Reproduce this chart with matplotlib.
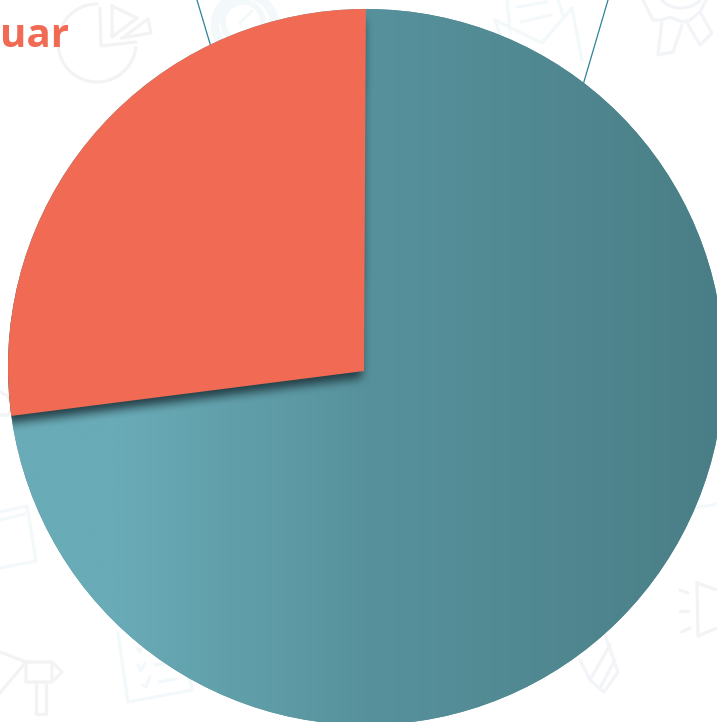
import numpy as np
import matplotlib
matplotlib.use("Agg")
import matplotlib.pyplot as plt
from matplotlib.colors import LinearSegmentedColormap
from matplotlib.patches import Circle, Arc

# Pie data
values = [27.1, 72.9]
colors = ["#F06A54", "#57929C"]

W, H = 717, 722
# the outline circle and the point where the slices meet are slightly apart
cx, cy, radius = 366, H - 367, 358
apex_x, apex_y = 364, H - 371

fig = plt.figure(figsize=(W / 100, H / 100), dpi=100)
ax = fig.add_axes([0, 0, 1, 1])

grey = "#F3F3F3"
blue = "#F3F8FB"
lilac = "#F2F4F7"


def py(y):
    return H - y


def icon(xs, ys, color=grey, lw=2.3):
    ax.plot(xs, [py(v) for v in ys], color=color, lw=lw, solid_capstyle="round",
            solid_joinstyle="round", zorder=1)


# faint background icons
ax.add_patch(Arc((97, py(43)), 78, 78, theta1=88, theta2=355, color=grey, lw=2.3, zorder=1))
icon([100, 101, 136], [8, 46, 42])
icon([112, 112, 137, 112], [6, 37, 18, 6])
icon([122, 148, 151, 122], [38, 19, 33, 38])
ax.add_patch(Circle((245, py(25)), 30, fill=False, color=blue, lw=6, zorder=1))
ax.add_patch(Circle((243, py(22)), 20, fill=False, color=blue, lw=4, zorder=1))
icon([240, 252], [23, 11], blue, lw=2)
icon([495, 542, 572, 582], [20, 43, 8, 60], blue)
icon([495, 503], [20, 45], blue)
icon([507, 510], [0, 30], blue)
icon([558, 563], [0, 15], blue)
icon([517, 547], [7, 2], blue)
icon([521, 551], [22, 15], blue)
ax.add_patch(Arc((681, py(-12)), 48, 40, theta1=180, theta2=360, color=lilac, lw=2.3, zorder=1))
icon([662, 658, 673, 682], [20, 55, 52, 25], lilac)
icon([687, 700, 712, 700], [23, 45, 33, 12], lilac)
icon([643, 653, 662, 670, 682, 690, 700, 706], [0, 20, 20, 17, 22, 20, 12, 0], lilac)
icon([0, 27, 36, 0], [512, 506, 561, 568], blue)
icon([0, 25], [520, 514], blue)
icon([0, 26, 26, 52, 52, 26, 0], [652, 662, 682, 682, 662, 662, 693])
icon([36, 36, 46, 46], [684, 714, 714, 684])
icon([54, 62, 54], [664, 672, 680])
icon([0, 8, 12, 8, 0], [392, 396, 408, 415, 415], grey)
icon([118, 128, 192, 188], [633, 702, 690, 670], blue)
icon([137, 140, 143], [648, 652, 645], blue)
icon([138, 141, 145], [665, 671, 663], blue)
icon([142, 146, 150], [685, 687, 677], blue)
icon([155, 165], [665, 664], blue)
icon([159, 175], [682, 679], blue)
icon([580, 590, 604, 618, 605], [660, 680, 692, 672, 635], lilac)
icon([590, 610], [680, 645], lilac)
icon([600, 615], [688, 660], lilac)
icon([697, 717], [583, 590], grey)
icon([697, 698, 717], [583, 636, 628], grey)
icon([680, 688], [590, 593], grey)
icon([680, 688], [611, 611], grey)
icon([682, 690], [632, 628], grey)
icon([695, 717], [508, 504], blue)

# thin leader lines going behind the pie
ax.plot([197, 211], [py(0), py(47)], color="#2E8299", lw=0.9, zorder=2)
ax.plot([608, 583], [py(0), py(85)], color="#2E8299", lw=0.9, zorder=2)

ax.text(0, py(47), "uar", color="#F06A54", fontsize=29, fontweight="bold",
        family="Open Sans", ha="left", va="baseline", zorder=2)

# slices are cut to the outline circle
wedges, _ = ax.pie(values, colors=colors, startangle=89.7, counterclock=True,
                   center=(apex_x, apex_y), radius=radius + 20, frame=True)
orange, teal = wedges
outline = Circle((cx, cy), radius, transform=ax.transData)
for w in wedges:
    w.set_clip_on(True)
    w.set_clip_path(outline)
orange.set_zorder(6)
teal.set_zorder(3)

# left to right gradient on the big slice
grad_cmap = LinearSegmentedColormap.from_list(
    "teal", [(0, "#69ABB7"), (0.15, "#69ABB7"), (0.5, "#57929C"), (1, "#4A7E86")])
grad = np.linspace(0, 1, 256).reshape(1, -1)
im = ax.imshow(grad, cmap=grad_cmap, extent=[cx - radius, cx + radius, cy - radius, cy + radius],
               aspect="auto", zorder=4)
im.set_clip_path(outline)

# soft shadow of the small slice falling on the big one
yy, xx = np.mgrid[0:H, 0:W]
theta1, theta2 = orange.theta1, orange.theta2
shadow_ox, shadow_oy = -2, -7
dx = xx + 0.5 - apex_x - shadow_ox
dy = (H - yy - 0.5) - apex_y - shadow_oy
ang = np.degrees(np.arctan2(dy, dx)) % 360
mask = ((ang >= theta1) & (ang <= theta2) & (dx ** 2 + dy ** 2 <= radius ** 2)).astype(float)
kernel = np.ones(11) / 11
for _ in range(2):
    mask = np.apply_along_axis(lambda r: np.convolve(r, kernel, mode="same"), 0, mask)
    mask = np.apply_along_axis(lambda r: np.convolve(r, kernel, mode="same"), 1, mask)
shade = np.zeros((H, W, 4))
shade[..., :3] = (0.13, 0.22, 0.25)
shade[..., 3] = mask * 0.95
sh = ax.imshow(shade, extent=[0, W, 0, H], origin="upper", aspect="auto", zorder=5)
sh.set_clip_path(outline)

ax.set_xlim(0, W)
ax.set_ylim(0, H)
ax.set_aspect("auto")
ax.axis("off")

fig.savefig("out.png", dpi=100, facecolor="white")
